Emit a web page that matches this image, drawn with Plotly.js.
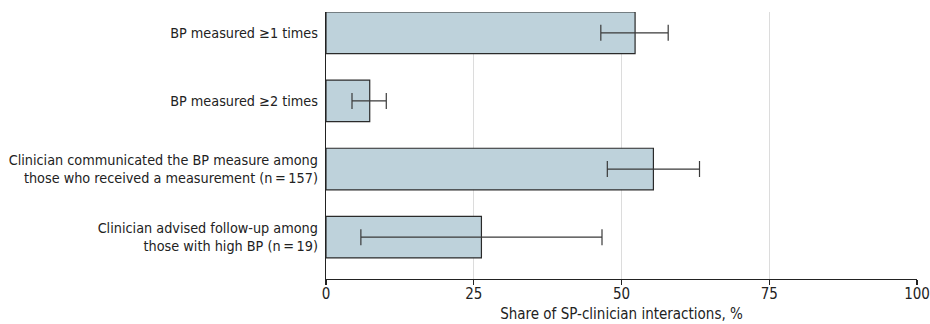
<!DOCTYPE html>
<html><head><meta charset="utf-8">
<script src="https://cdn.plot.ly/plotly-3.0.1.min.js"></script>
<style>html,body{margin:0;padding:0;background:#fff}#chart{width:930px;height:324px}</style>
</head><body><div id="chart"></div>
<script>
const categories = [
  "BP measured ≥1 times",
  "BP measured ≥2 times",
  "Clinician communicated the BP measure among<br>those who received a measurement (n\u2009=\u2009157)",
  "Clinician advised follow-up among<br>those with high BP (n\u2009=\u200919)"
];
const shares = [52.3, 7.4, 55.4, 26.3];
const ciLower = [46.5, 4.4, 47.6, 5.9];
const ciUpper = [57.9, 10.2, 63.2, 46.7];
const xTicks = [0, 25, 50, 75, 100];

const pos = categories.map((c, i) => i);
const trace = {
  type: 'bar', orientation: 'h',
  x: shares, y: pos, width: 0.61,
  marker: {color: '#bed2db', line: {color: '#2a2a2a', width: 1.2}},
  error_x: {
    type: 'data', symmetric: false,
    array: shares.map((v, i) => ciUpper[i] - v),
    arrayminus: shares.map((v, i) => v - ciLower[i]),
    color: '#3a3a3a', thickness: 1.2, width: 8
  },
  hoverinfo: 'none'
};
const font = {family: '"DejaVu Sans Condensed", sans-serif', size: 14.3, color: '#222'};
const layout = {
  width: 930, height: 324,
  margin: {l: 326, r: 13, t: 12, b: 45},
  paper_bgcolor: '#fff', plot_bgcolor: '#fff',
  font: font, showlegend: false,
  xaxis: {
    range: [0, 100], tickvals: xTicks, ticktext: xTicks.map(String),
    showgrid: true, gridcolor: '#dcdcdc', gridwidth: 1.2, zeroline: false,
    showline: true, linecolor: '#222', linewidth: 1.2,
    ticks: 'outside', ticklen: 5, tickcolor: '#222', tickwidth: 1.2,
    ticklabelstandoff: -4,
    tickfont: {family: font.family, size: 15, color: '#222'},
    title: {text: 'Share of SP-clinician interactions, %', font: {family: font.family, size: 15, color: '#222'}, standoff: 6}
  },
  yaxis: {
    range: [3.614, -0.305], tickvals: pos, ticktext: categories,
    showgrid: false, zeroline: false,
    showline: true, linecolor: '#222', linewidth: 1.2,
    ticks: 'outside', ticklen: 4, tickcolor: 'rgba(0,0,0,0)',
    tickfont: font
  }
};
Plotly.newPlot('chart', [trace], layout, {displayModeBar: false, staticPlot: true});
</script></body></html>
